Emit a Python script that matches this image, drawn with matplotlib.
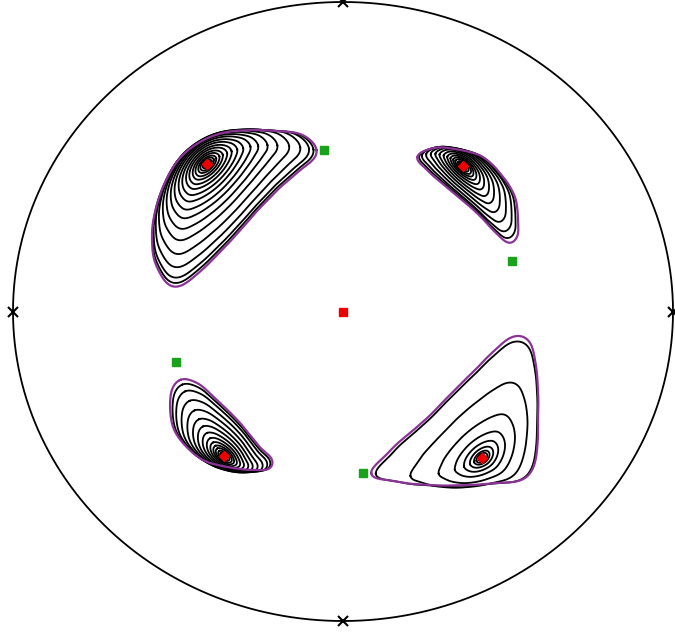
import numpy as np
import matplotlib
matplotlib.use("Agg")
import matplotlib.pyplot as plt

# ---- data (unit disk coordinates) ----
origin_point = (0.0, 0.0)

center_x = [-0.412, 0.364, -0.361, 0.421]
center_y = [0.477, 0.470, -0.467, -0.473]

saddle_x = [-0.058, 0.512, -0.506, 0.061]
saddle_y = [0.522, 0.163, -0.163, -0.522]

cross_x = [0.0, -1.0, 1.0, 0.0]
cross_y = [1.0, 0.0, 0.0, -1.0]

# separatrix (outer purple) loops of each lobe
ul_x = [-0.079, -0.121, -0.200, -0.282, -0.364, -0.433, -0.494, -0.539, -0.570,
        -0.579, -0.570, -0.545, -0.515, -0.473, -0.412, -0.333, -0.252, -0.182,
        -0.121, -0.085]
ul_y = [0.522, 0.570, 0.583, 0.586, 0.577, 0.548, 0.496, 0.418, 0.321,
        0.237, 0.160, 0.108, 0.079, 0.095, 0.150, 0.237, 0.334, 0.409,
        0.464, 0.499]

ur_x = [0.224, 0.273, 0.355, 0.424, 0.485, 0.521, 0.530, 0.527, 0.506,
        0.476, 0.406, 0.324, 0.255]
ur_y = [0.499, 0.528, 0.522, 0.499, 0.435, 0.370, 0.305, 0.241, 0.221,
        0.241, 0.318, 0.393, 0.457]

ll_x = [-0.494, -0.515, -0.524, -0.515, -0.485, -0.424, -0.352, -0.273,
        -0.221, -0.215, -0.252, -0.312, -0.382, -0.442, -0.485]
ll_y = [-0.221, -0.244, -0.296, -0.373, -0.425, -0.480, -0.502, -0.512,
        -0.506, -0.480, -0.438, -0.360, -0.286, -0.231, -0.218]

lr_x = [0.082, 0.106, 0.167, 0.248, 0.330, 0.400, 0.470, 0.512, 0.542,
        0.567, 0.582, 0.591, 0.591, 0.588, 0.573, 0.542, 0.470, 0.370,
        0.270, 0.167, 0.106, 0.088]
lr_y = [-0.522, -0.490, -0.425, -0.351, -0.263, -0.189, -0.115, -0.083, -0.080,
        -0.102, -0.157, -0.254, -0.360, -0.447, -0.512, -0.544, -0.554, -0.561,
        -0.561, -0.551, -0.538, -0.535]

# relative sizes of the nested orbits in each lobe
ul_levels = [0.04, 0.06, 0.09, 0.12, 0.16, 0.20, 0.25, 0.30, 0.36, 0.42,
             0.49, 0.56, 0.64, 0.72, 0.81, 0.89, 0.95, 0.98]
ur_levels = [0.05, 0.08, 0.12, 0.17, 0.22, 0.28, 0.35, 0.43, 0.52, 0.61,
             0.71, 0.81, 0.90, 0.96]
ll_levels = [0.05, 0.08, 0.12, 0.17, 0.22, 0.28, 0.35, 0.43, 0.52, 0.61,
             0.71, 0.81, 0.90, 0.96]
lr_levels = [0.04, 0.07, 0.10, 0.15, 0.22, 0.32, 0.48, 0.72, 0.97]


def closed_spline(px, py, n=40, keep=16):
    """Centripetal Catmull-Rom through the outline points, then resampled."""
    P = np.column_stack([px, py])
    m = len(P)
    u = np.linspace(0, 1, n, endpoint=False)[:, None]
    out = []
    for i in range(m):
        p0, p1, p2, p3 = P[i - 1], P[i], P[(i + 1) % m], P[(i + 2) % m]
        t0 = 0.0
        t1 = t0 + np.linalg.norm(p1 - p0) ** 0.5
        t2 = t1 + np.linalg.norm(p2 - p1) ** 0.5
        t3 = t2 + np.linalg.norm(p3 - p2) ** 0.5
        t = t1 + (t2 - t1) * u
        a1 = (t1 - t) / (t1 - t0) * p0 + (t - t0) / (t1 - t0) * p1
        a2 = (t2 - t) / (t2 - t1) * p1 + (t - t1) / (t2 - t1) * p2
        a3 = (t3 - t) / (t3 - t2) * p2 + (t - t2) / (t3 - t2) * p3
        b1 = (t2 - t) / (t2 - t0) * a1 + (t - t0) / (t2 - t0) * a2
        b2 = (t3 - t) / (t3 - t1) * a2 + (t - t1) / (t3 - t1) * a3
        cc = (t2 - t) / (t2 - t1) * b1 + (t - t1) / (t2 - t1) * b2
        out.append(cc)
    out = np.vstack(out)
    closed = np.vstack([out, out[:1]])
    d = np.r_[0, np.cumsum(np.hypot(*np.diff(closed, axis=0).T))]
    N = 512
    s = np.linspace(0, d[-1], N, endpoint=False)
    z = np.interp(s, d, closed[:, 0]) + 1j * np.interp(s, d, closed[:, 1])
    Z = np.fft.fft(z)
    k = np.fft.fftfreq(N, 1.0 / N)
    Z[np.abs(k) > keep] = 0
    return np.fft.ifft(Z)


fig = plt.figure(figsize=(6.75, 6.34), dpi=100)
ax = fig.add_axes([13 / 675, 13 / 634, 660 / 675, 619 / 634])
ax.set_xlim(-1, 1)
ax.set_ylim(-1, 1)
ax.axis("off")

th = np.linspace(0, 2 * np.pi, 721)
ax.plot(np.cos(th), np.sin(th), color="black", lw=1.3, clip_on=False)

lobes = [(ul_x, ul_y, ul_levels), (ur_x, ur_y, ur_levels),
         (ll_x, ll_y, ll_levels), (lr_x, lr_y, lr_levels)]

for k, (bx, by, levels) in enumerate(lobes):
    c = center_x[k] + 1j * center_y[k]
    zb = closed_spline(bx, by) - c
    Z = np.fft.fft(zb)
    Z1 = np.zeros_like(Z)
    Z1[1] = Z[1]
    Z1[-1] = Z[-1]
    z1 = np.fft.ifft(Z1)
    for s in levels:
        w = s ** 1.2
        z = c + s * (w * zb + (1 - w) * z1)
        z = np.r_[z, z[:1]]
        ax.plot(z.real, z.imag, color="black", lw=1.3)
    zz = np.r_[zb, zb[:1]] + c
    ax.plot(zz.real, zz.imag, color="#8a3596", lw=1.6)

ax.plot(cross_x, cross_y, linestyle="none", marker="x", ms=7, mew=1.5,
        color="black", clip_on=False, zorder=5)
ax.plot(saddle_x, saddle_y, linestyle="none", marker="s", ms=5.5,
        color="#1aa31a", zorder=6)
ax.plot([origin_point[0]], [origin_point[1]], linestyle="none", marker="s",
        ms=5.5, color="#ee0000", zorder=6)
ax.plot(center_x, center_y, linestyle="none", marker="D", ms=5,
        color="#ee0000", zorder=6)

fig.savefig("out.png", dpi=100)
